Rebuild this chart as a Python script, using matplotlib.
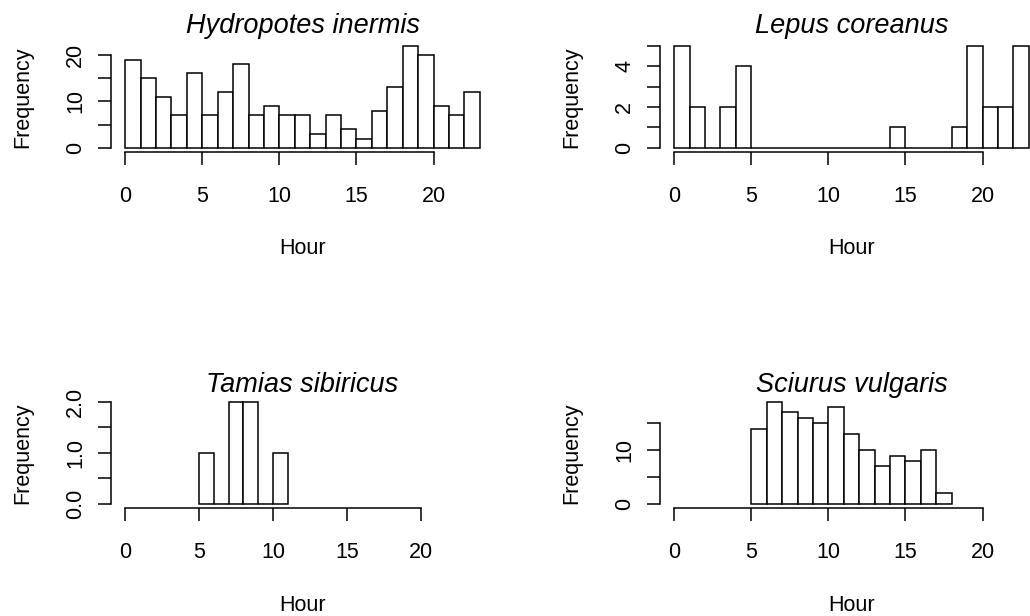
import matplotlib.pyplot as plt
import numpy as np

plt.rcParams['font.family'] = ['Liberation Sans', 'DejaVu Sans']

# Hour-of-day detections per species (1 hour bins)
hydropotes_edges = list(range(0, 24))
hydropotes_counts = [19, 15, 11, 7, 16, 7, 12, 18, 7, 9, 7, 7, 3, 7, 4, 2, 8, 13, 22, 20, 9, 7, 12]

lepus_edges = list(range(0, 24))
lepus_counts = [5, 2, 0, 2, 4, 0, 0, 0, 0, 0, 0, 0, 0, 0, 1, 0, 0, 0, 1, 5, 2, 2, 5]

tamias_edges = list(range(5, 12))
tamias_counts = [1, 0, 2, 2, 0, 1]

sciurus_edges = list(range(5, 19))
sciurus_counts = [14, 19, 17, 16, 15, 18, 13, 10, 7, 9, 8, 10, 2]

hour_ticks = [0, 5, 10, 15, 20]
hour_labels = ['0', '5', '10', '15', '20']

W, H = 1030, 616
LW = 1.1
TEXT = 15.5


def px_axes(left, top, width, height):
    # convert a pixel box into figure coordinates
    return [left / W, (H - top - height) / H, width / W, height / H]


def draw_hist(ax, title, edges, counts, xrange, yticks, ylabels, title_pad):
    edges = np.array(edges)
    ax.bar(edges[:-1], counts, width=np.diff(edges), align='edge',
           color='white', edgecolor='black', linewidth=LW)

    # R-style 4% padding around the data range
    x0, x1 = xrange
    dx = 0.04 * (x1 - x0)
    ax.set_xlim(x0 - dx, x1 + dx)
    ymax = max(counts)
    ax.set_ylim(-0.04 * ymax, 1.04 * ymax)

    ax.set_xticks(hour_ticks, hour_labels)
    ax.set_yticks(yticks, ylabels)
    plt.setp(ax.get_yticklabels(), rotation=90, va='center', rotation_mode='default')

    for side in ['top', 'right']:
        ax.spines[side].set_visible(False)
    ax.spines['bottom'].set_bounds(hour_ticks[0], hour_ticks[-1])
    ax.spines['left'].set_bounds(yticks[0], yticks[-1])
    ax.spines['bottom'].set_linewidth(LW)
    ax.spines['left'].set_linewidth(LW)

    ax.tick_params(axis='both', direction='out', length=9.5, width=LW,
                   labelsize=TEXT, colors='black')
    ax.tick_params(axis='x', pad=14.8)
    ax.tick_params(axis='y', pad=8.4)

    ax.set_title(title, fontsize=19.5, fontstyle='italic', pad=title_pad)
    ax.set_xlabel('Hour', fontsize=TEXT)
    ax.set_ylabel('Frequency', fontsize=TEXT)
    ax.xaxis.set_label_coords(0.5, -0.78)
    ax.yaxis.set_label_coords(-0.2026, 0.5)


fig = plt.figure(figsize=(W / 100, H / 100), dpi=100)

ax1 = fig.add_axes(px_axes(111, 41.5, 383, 110.5))
draw_hist(ax1, 'Hydropotes inermis', hydropotes_edges, hydropotes_counts, (0, 23),
          [0, 5, 10, 15, 20], ['0', '', '10', '', '20'], 6)

ax2 = fig.add_axes(px_axes(660, 41.5, 383, 110.5))
draw_hist(ax2, 'Lepus coreanus', lepus_edges, lepus_counts, (0, 23),
          [0, 1, 2, 3, 4, 5], ['0', '', '2', '', '4', ''], 6)

ax3 = fig.add_axes(px_axes(111, 397.5, 383, 110.7))
draw_hist(ax3, 'Tamias sibiricus', tamias_edges, tamias_counts, (0, 24),
          [0, 0.5, 1.0, 1.5, 2.0], ['0.0', '', '1.0', '', '2.0'], 3.3)

ax4 = fig.add_axes(px_axes(660, 397.5, 383, 110.7))
draw_hist(ax4, 'Sciurus vulgaris', sciurus_edges, sciurus_counts, (0, 23),
          [0, 5, 10, 15], ['0', '', '10', ''], 3.3)

fig.savefig('out.png', dpi=100)
plt.close(fig)
